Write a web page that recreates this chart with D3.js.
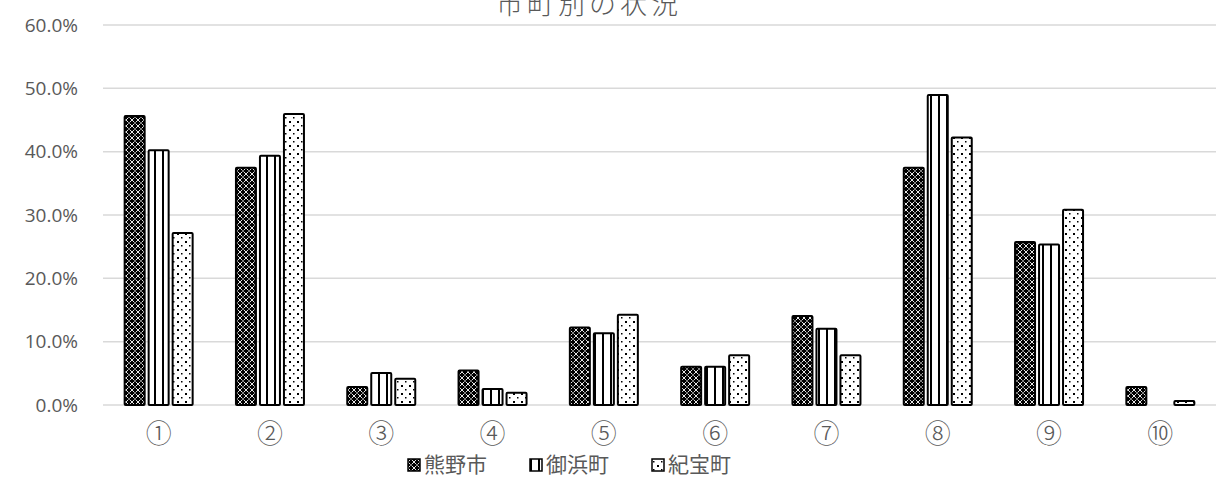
<!DOCTYPE html>
<html><head><meta charset="utf-8">
<script src="https://cdn.jsdelivr.net/npm/d3@7/dist/d3.min.js"></script>
<style>body{margin:0;background:#fff;}svg{display:block;}</style>
</head><body>
<svg id="c" width="1223" height="487"></svg>
<script>
const title = "市町別の状況";
const categories = ["①","②","③","④","⑤","⑥","⑦","⑧","⑨","⑩"];
const seriesNames = ["熊野市","御浜町","紀宝町"];
const kumano = [0.458,0.376,0.030,0.056,0.124,0.062,0.142,0.376,0.259,0.030];
const mihama = [0.404,0.395,0.052,0.027,0.115,0.062,0.122,0.491,0.255,0];
const kiho   = [0.273,0.461,0.043,0.021,0.144,0.080,0.080,0.424,0.310,0.008];
const yTicks = [0,0.1,0.2,0.3,0.4,0.5,0.6];

const seriesValues = [kumano, mihama, kiho];
const svg = d3.select("#c");
const font = "'Noto Sans CJK JP','Noto Sans',sans-serif";
const numFont = "'Open Sans','Noto Sans',sans-serif";
const textColor = "#595959";

const defs = svg.append("defs");
const p0 = defs.append("pattern").attr("id","pat0").attr("patternUnits","userSpaceOnUse").attr("width",6).attr("height",6);
p0.append("rect").attr("width",6).attr("height",6).attr("fill","#000");
p0.append("path").attr("d","M0,0L6,6M6,0L0,6").attr("stroke","#fff").attr("stroke-width",0.9).attr("fill","none");
p0.append("circle").attr("cx",3).attr("cy",3).attr("r",0.8).attr("fill","#000");
const p1 = defs.append("pattern").attr("id","pat1").attr("patternUnits","userSpaceOnUse").attr("width",8).attr("height",8);
p1.append("rect").attr("width",8).attr("height",8).attr("fill","#fff");
p1.append("rect").attr("x",2).attr("width",2).attr("height",8).attr("fill","#000");
const p2 = defs.append("pattern").attr("id","pat2").attr("patternUnits","userSpaceOnUse").attr("width",8).attr("height",8);
p2.append("rect").attr("width",8).attr("height",8).attr("fill","#fff");
p2.append("rect").attr("x",1).attr("y",1).attr("width",2).attr("height",2).attr("fill","#000");
p2.append("rect").attr("x",5).attr("y",5).attr("width",1.5).attr("height",1.5).attr("fill","#000");
const fills = ["url(#pat0)","url(#pat1)","url(#pat2)"];

const margin = {left:103, right:7, top:25, bottom:82};
const W = 1223, H = 487;
const x = d3.scaleBand().domain(categories).range([margin.left, W-margin.right]).paddingInner(0).paddingOuter(0);
const y = d3.scaleLinear().domain([0,0.6]).range([H-margin.bottom, margin.top]);

svg.append("g").selectAll("line").data(yTicks).join("line")
  .attr("x1",margin.left).attr("x2",W-margin.right)
  .attr("y1",d=>y(d)).attr("y2",d=>y(d))
  .attr("stroke","#d9d9d9").attr("stroke-width",1.5);

const yAxis = d3.axisLeft(y).tickValues(yTicks).tickFormat(d3.format(".1%")).tickSize(0).tickPadding(25);
const ya = svg.append("g").attr("transform",`translate(${margin.left},0)`).call(yAxis);
ya.select(".domain").remove();
ya.selectAll("text").attr("font-family",numFont).attr("font-size",19).attr("fill",textColor);

const xAxis = d3.axisBottom(x).tickSize(0).tickPadding(20);
const xa = svg.append("g").attr("transform",`translate(0,${y(0)})`).call(xAxis);
xa.select(".domain").remove();
xa.selectAll("text").attr("font-family",font).attr("font-size",26).attr("font-weight",300).attr("fill",textColor);

const barW = 22, gap = 2;
const groupW = barW*3 + gap*2;
const inner = d3.scaleBand().domain([0,1,2]).range([0, groupW]).paddingInner(gap/(barW+gap));
seriesValues.forEach((vals, si) => {
  svg.append("g").selectAll("rect").data(vals.map((v,i)=>({v, c:categories[i]})).filter(d=>d.v>0)).join("rect")
    .attr("x", d => x(d.c) + (x.bandwidth()-groupW)/2 + inner(si) + 1)
    .attr("width", inner.bandwidth() - 2)
    .attr("y", d => y(d.v) + 1)
    .attr("height", d => Math.max(0, y(0) - y(d.v) - 1))
    .attr("fill", fills[si])
    .attr("stroke","#000").attr("stroke-width",2).attr("rx",1);
});

svg.append("text").attr("x", 589).attr("y", 14).attr("text-anchor","middle")
  .attr("font-family",font).attr("font-size",27).attr("font-weight",300).attr("letter-spacing",4)
  .attr("fill",textColor).text(title);

const legendX = [407, 529, 651];
const lg = svg.append("g");
seriesNames.forEach((n,i)=>{
  lg.append("rect").attr("x",legendX[i]+1).attr("y",459).attr("width",12).attr("height",12)
    .attr("fill",fills[i]).attr("stroke","#000").attr("stroke-width",1.5);
  lg.append("text").attr("x",legendX[i]+17).attr("y",472).attr("font-family",font).attr("font-size",21)
    .attr("fill",textColor).text(n);
});
</script>
</body></html>
